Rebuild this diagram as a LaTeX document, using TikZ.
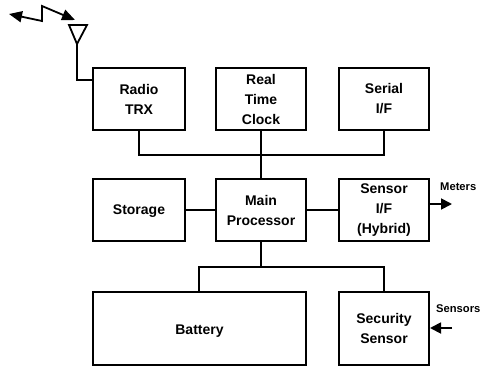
\documentclass[tikz,border=0pt]{standalone}
\usepackage{fontspec}
\setmainfont{Liberation Sans}
\usetikzlibrary{arrows.meta}
\tikzset{
  blk/.style={draw=black,line width=1.8pt,fill=white,inner sep=0pt,align=center,font=\fontsize{14}{20}\selectfont\bfseries},
  wire/.style={draw=black,line width=1.8pt},
  arr/.style={wire,-{Triangle[length=11pt,width=11pt]}},
  tag/.style={inner sep=0pt,font=\fontsize{11.2}{13}\selectfont\bfseries}
}
\begin{document}
\begin{tikzpicture}[x=1pt,y=-1pt]
\useasboundingbox (0,0) rectangle (480,367);
\newcommand{\blkat}[6]{\node[blk,minimum width=#4pt,minimum height=#5pt] (#1) at (#2,#3) {#6};}
\blkat{radio}{139}{99}{92}{62}{Radio\\TRX}
\blkat{rtc}{261}{99}{90}{62}{Real\\Time\\Clock}
\blkat{serial}{384}{99}{90}{62}{Serial\\I/F}
\blkat{storage}{139}{210}{92}{62}{\raisebox{-4.5pt}[0pt][0pt]{Storage}}
\blkat{main}{261}{210}{90}{62}{Main\\Processor}
\blkat{sensor}{384}{210}{90}{62}{Sensor\\I/F\\(Hybrid)}
\blkat{battery}{199.5}{328.5}{213}{73}{\raisebox{-6pt}[0pt][0pt]{Battery}}
\blkat{security}{384}{328.5}{90}{73}{Security\\Sensor}
% top bus
\coordinate (bl) at (radio.south |- 0,155);
\coordinate (br) at (serial.south |- 0,155);
\draw[wire] (radio.south) -- (bl) -- (br) -- (serial.south);
\draw[wire] (rtc.south) -- (main.north);
% lower bus
\coordinate (ll) at (199,267);
\coordinate (lr) at (security.north |- 0,267);
\coordinate (lm) at (main.south |- 0,267);
\coordinate (lb) at (199,292);
\draw[wire] (main.south) -- (lm);
\draw[wire] (lb) -- (ll) -- (lr) -- (security.north);
% row links
\draw[wire] (storage.east) -- (main.west);
\draw[wire] (main.east) -- (sensor.west);
% IO arrows
\coordinate (mstart) at (429,204);
\coordinate (mend) at (452,204);
\draw[arr] (mstart) -- (mend);
\coordinate (sstart) at (452,328);
\coordinate (send) at (430,328);
\draw[arr] (sstart) -- (send);
\node[tag,anchor=west] (meters) at (440,187) {Meters};
\node[tag,anchor=west] (sensors) at (436,309) {Sensors};
% antenna
\coordinate (ta) at (69,25);
\coordinate (tb) at (87,25);
\coordinate (tc) at (77,44);
\draw[wire,miter limit=10] (ta) -- (tb) -- (tc) -- cycle;
\coordinate (ac) at (77,80);
\draw[wire] (tc) -- (ac) -- (radio.west |- ac);
% lightning
\coordinate (z1) at (9,14);
\coordinate (z2) at (42,21);
\coordinate (z3) at (42,6);
\coordinate (z4) at (75,20);
\draw[wire,{Triangle[length=13pt,width=11pt]}-{Triangle[length=13pt,width=11pt]}] (z1) -- (z2) -- (z3) -- (z4);
\end{tikzpicture}
\end{document}
